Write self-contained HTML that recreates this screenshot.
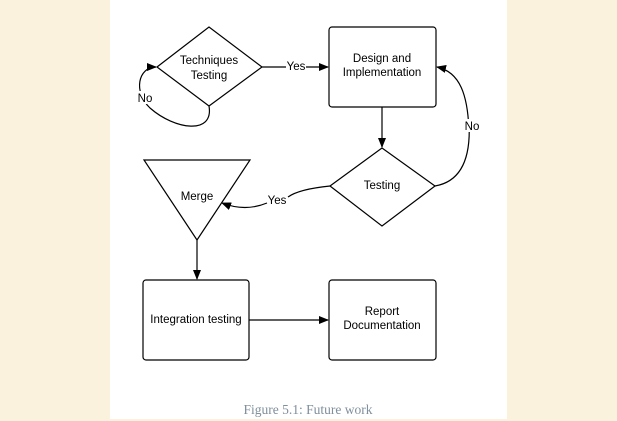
<!DOCTYPE html>
<html><head><style>
html,body{margin:0;padding:0;background:#fbf2de;}
body{width:617px;height:421px;position:relative;overflow:hidden;}
svg{position:absolute;left:0;top:0;}
</style></head><body>
<svg width="617" height="421" viewBox="0 0 617 421" xmlns="http://www.w3.org/2000/svg">
<defs><marker id="a" markerWidth="10" markerHeight="8" refX="9" refY="4" orient="auto" markerUnits="userSpaceOnUse"><path d="M0,0 L10,4 L0,8 Z" fill="#000"/></marker></defs>
<rect x="110" y="0" width="397" height="419" fill="#fff"/>
<g fill="none" stroke="#000" stroke-width="1.2">
<polygon points="157,67 209,27 262,67 209,106" fill="#fff"/>
<rect x="329" y="27" width="107" height="80" rx="3" fill="#fff"/>
<polygon points="330,186 382,148 435,186 382,226" fill="#fff"/>
<polygon points="144,160 250,160 197,240" fill="#fff"/>
<rect x="143" y="280" width="106" height="80" rx="3" fill="#fff"/>
<rect x="329" y="280" width="107" height="80" rx="3" fill="#fff"/>
<path d="M262,67 L286,67 M306,67 L328,67" marker-end="url(#a)"/>
<path d="M209,106 C214,135 175,130 150,108 C133,92 138,67 156,67" marker-end="url(#a)"/>
<path d="M382,107 L382,147" marker-end="url(#a)"/>
<path d="M435,186 C470,180 470,140 469,122 M469,132 C468,95 460,72 437,67" marker-end="url(#a)"/>
<path d="M330,186 C310,188 295,192 288,197 M267,203 C250,210 235,208 222,203" marker-end="url(#a)"/>
<path d="M197,240 L197,279" marker-end="url(#a)"/>
<path d="M249,320 L328,320" marker-end="url(#a)"/>
</g>
<rect x="136" y="91" width="18" height="13" fill="#fff"/>
<rect x="463" y="119" width="18" height="13" fill="#fff"/>
<g font-family="Liberation Sans, sans-serif" font-size="11.5" text-anchor="middle" fill="#000">
<text x="209" y="64">Techniques</text><text x="209" y="79">Testing</text>
<text x="382" y="62">Design and</text><text x="382" y="76">Implementation</text>
<text x="382" y="189">Testing</text>
<text x="197" y="200">Merge</text>
<text x="196" y="323">Integration testing</text>
<text x="382" y="315">Report</text><text x="382" y="329">Documentation</text>
<text x="296" y="70">Yes</text>
<text x="145" y="102">No</text>
<text x="472" y="130">No</text>
<text x="277" y="204">Yes</text>
</g>
<text x="308" y="414" font-family="Liberation Serif, serif" font-size="13.5" fill="#7f8f9c" text-anchor="middle">Figure 5.1: Future work</text>
</svg>
</body></html>
